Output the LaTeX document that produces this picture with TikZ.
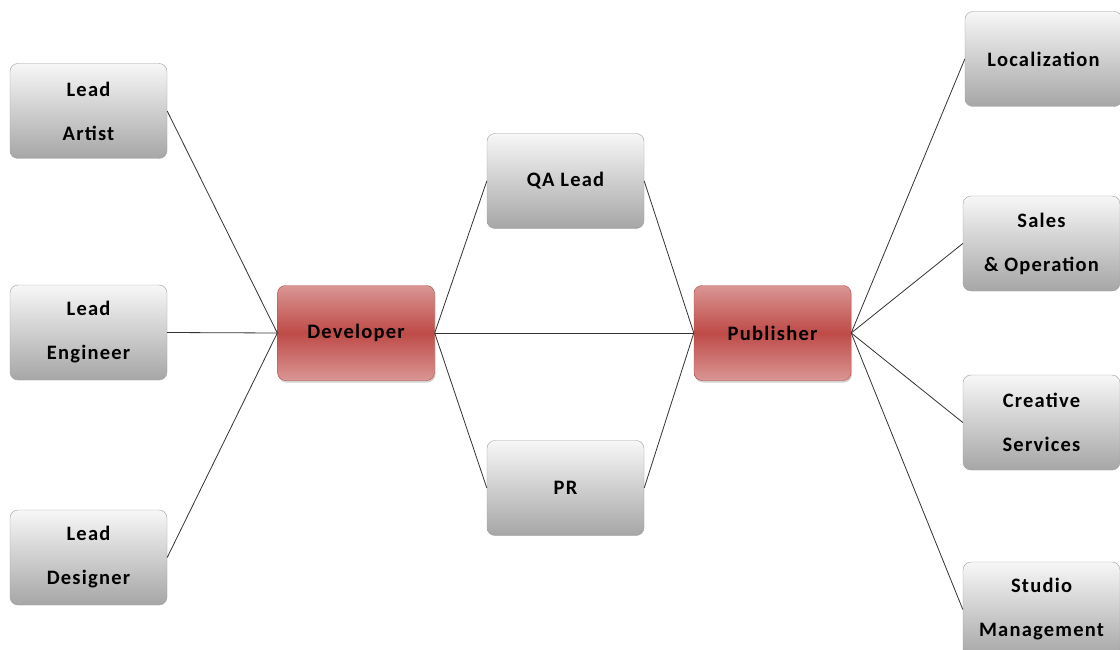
\documentclass[tikz,border=0pt]{standalone}
\usepackage{fontspec}
\setmainfont{Carlito}
\usepackage{tikz}
\usetikzlibrary{shadows}
\definecolor{boxline}{HTML}{A0A0A0}
\definecolor{boxtop}{HTML}{F7F7F7}
\definecolor{boxbottom}{HTML}{A6A6A6}
\definecolor{leadline}{HTML}{B04A47}
\definecolor{leadlight}{HTML}{DA9694}
\definecolor{leaddark}{HTML}{BE4B48}
\tikzset{
  rolebox/.style={rectangle, rounded corners=8pt, draw=boxline,
    top color=boxtop, bottom color=boxbottom,
    minimum width=157pt, minimum height=95pt, inner sep=0pt,
    align=center, font=\fontsize{20.5}{44}\selectfont\bfseries\addfontfeatures{LetterSpace=6}},
  teambox/.style={rolebox, draw=leadline, drop shadow={shadow xshift=1pt, shadow yshift=-2pt, opacity=0.35},
    top color=leadlight, bottom color=leadlight, middle color=leaddark},
  link/.style={draw=black!80, line width=0.8pt}
}
\begin{document}
\begin{tikzpicture}[x=1pt,y=-1pt]
\useasboundingbox (0.000000, 0.000000) rectangle (1120.000000, 650.000000);
\fill[white] (0.000000, 0.000000) rectangle (1120.000000, 650.000000);
% Drawing nodes
% Column 1: leads
\node[rolebox] (artist) at (88.500000, 111.000000) {Lead\\Artist};
\node[rolebox] (engineer) at (88.500000, 332.500000) {Lead\\Engineer};
\node[rolebox] (designer) at (88.500000, 557.500000) {Lead\\Designer};
% Column 2: developer
\node[teambox] (developer) at (356.000000, 333.000000) {Developer};
% Column 3: QA and PR
\node[rolebox] (qa) at (565.500000, 181.000000) {QA Lead};
\node[rolebox] (pr) at (565.500000, 488.000000) {PR};
% Column 4: publisher
\node[teambox] (publisher) at (772.500000, 333.000000) {Publisher};
% Column 5: publisher departments
\node[rolebox] (local) at (1043.500000, 59.000000) {Localization};
\node[rolebox] (sales) at (1041.500000, 243.500000) {Sales\\\& Operation};
\node[rolebox] (creative) at (1041.500000, 422.500000) {Creative\\Services};
\node[rolebox] (studio) at (1041.500000, 609.500000) {Studio\\Management};
% Done with nodes; drawing connectors
\path[link] (artist.east) -- (developer.west);
\path[link] (engineer.east) -- (developer.west);
\path[link] (designer.east) -- (developer.west);
\path[link] (developer.east) -- (qa.west);
\path[link] (developer.east) -- (pr.west);
\path[link] (developer.east) -- (publisher.west);
\path[link] (qa.east) -- (publisher.west);
\path[link] (pr.east) -- (publisher.west);
\path[link] (publisher.east) -- (local.west);
\path[link] (publisher.east) -- (sales.west);
\path[link] (publisher.east) -- (creative.west);
\path[link] (publisher.east) -- (studio.west);
% Done with connectors
\end{tikzpicture}
\end{document}
